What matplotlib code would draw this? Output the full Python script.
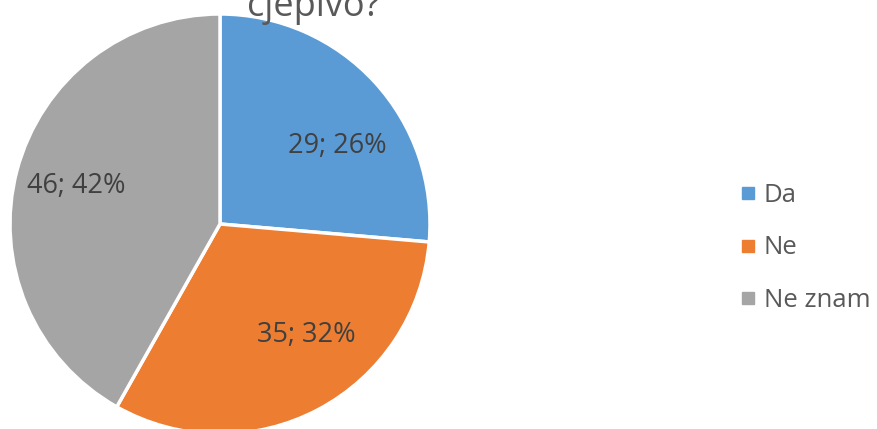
import numpy as np
import matplotlib.pyplot as plt
from matplotlib.lines import Line2D

labels = ['Da', 'Ne', 'Ne znam']
values = [29, 35, 46]
colors = ['#5B9BD5', '#ED7D31', '#A5A5A5']
title = 'cjepivo?'

plt.rcParams['font.family'] = ['Open Sans', 'DejaVu Sans']

W, H = 877, 429
fig = plt.figure(figsize=(W / 100, H / 100), dpi=100)
ax = fig.add_axes([10 / W, -5 / H, 420 / W, 420 / H])

total = sum(values)


def fmt(pct):
    v = int(round(pct * total / 100))
    return f'{v}; {pct:.0f}%'


wedges, texts, autotexts = ax.pie(
    values, colors=colors, startangle=90, counterclock=False,
    autopct=fmt, pctdistance=0.67, radius=1,
    wedgeprops=dict(edgecolor='white', linewidth=2.5),
    textprops=dict(fontsize=19.5, color='#404040'))

# excel "best fit" nudges labels away from the exact mid-angle
nudge = [-9, 10, 0]
for w, t, d in zip(wedges, autotexts, nudge):
    a = np.deg2rad((w.theta1 + w.theta2) / 2 + d)
    r = 0.67 if d else 0.71
    t.set_position((r * np.cos(a), r * np.sin(a)))

ax.set_xlim(-1, 1)
ax.set_ylim(-1, 1)
ax.set_aspect('equal')

fig.text(314 / W, 1 - 16 / H, title, fontsize=26, color='#595959',
         ha='center', va='baseline')

handles = [Line2D([], [], marker='s', linestyle='', markersize=8.5,
                  markerfacecolor=c, markeredgecolor=c) for c in colors]
fig.legend(handles, labels, loc='center left', bbox_to_anchor=(713 / W, 1 - 248 / H),
           frameon=False, fontsize=18.5, labelcolor='#595959',
           handletextpad=0.12, labelspacing=1.08, handlelength=0.95)

fig.savefig('out.png', dpi=100)
